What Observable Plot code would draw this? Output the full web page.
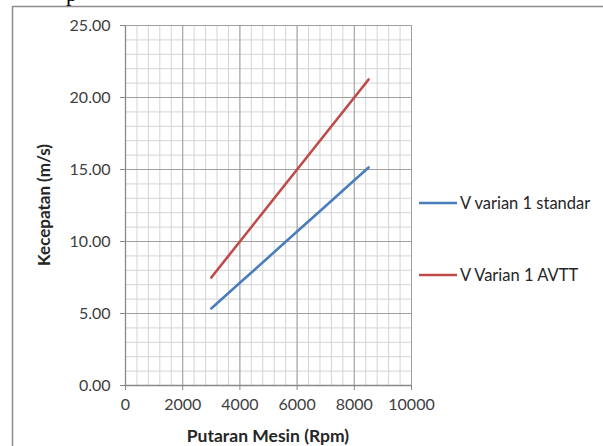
<!DOCTYPE html>
<html>
<head>
<meta charset="utf-8">
<script src="https://cdn.jsdelivr.net/npm/d3@7"></script>
<script src="https://cdn.jsdelivr.net/npm/@observablehq/plot@0.6"></script>
<style>
  html, body { margin: 0; padding: 0; background: #fff; }
  #chart { position: relative; width: 603px; height: 446px; overflow: hidden; }
</style>
</head>
<body>
<div id="chart"></div>
<script>
// Data
const rpm = [3000, 4000, 5000, 6000, 7000, 8000, 8500];
const vStandar = [5.35, 7.13, 8.91, 10.69, 12.47, 14.25, 15.14];
const vAvtt = [7.50, 10.00, 12.50, 15.00, 17.50, 20.00, 21.25];
const seriesNames = ["V varian 1 standar", "V Varian 1 AVTT"];
const seriesColors = ["#4a7ebb", "#be4b48"];
const xTicks = [0, 2000, 4000, 6000, 8000, 10000];
const yTicks = [0, 5, 10, 15, 20, 25];
const xTitle = "Putaran Mesin (Rpm)";
const yTitle = "Kecepatan (m/s)";

const data = [];
rpm.forEach((r, i) => {
  data.push({rpm: r, v: vStandar[i], s: seriesNames[0]});
  data.push({rpm: r, v: vAvtt[i], s: seriesNames[1]});
});

const xMinor = d3.range(0, 10001, 400);
const yMinor = d3.range(0, 25.001, 1);

const plot = Plot.plot({
  width: 603,
  height: 446,
  marginLeft: 125,
  marginRight: 192,
  marginTop: 25,
  marginBottom: 61,
  style: {fontFamily: "Lato, 'Open Sans', sans-serif", fontSize: "16px", color: "#404040", background: "#fff"},
  x: {domain: [0, 10000]},
  y: {domain: [0, 25]},
  color: {domain: seriesNames, range: seriesColors},
  marks: [
    Plot.ruleX(xMinor, {stroke: "#d4d4d4", strokeWidth: 1}),
    Plot.ruleY(yMinor, {stroke: "#d4d4d4", strokeWidth: 1}),
    Plot.ruleX(xTicks, {stroke: "#a0a0a0", strokeWidth: 1}),
    Plot.ruleY(yTicks, {stroke: "#a0a0a0", strokeWidth: 1}),
    Plot.ruleX([0], {stroke: "#888", strokeWidth: 1.3}),
    Plot.ruleY([0], {stroke: "#888", strokeWidth: 1.3}),
    Plot.axisX({ticks: xTicks, tickSize: 5, tickPadding: 8, tickFormat: d => String(d), stroke: "#888", label: null, fill: "#404040"}),
    Plot.axisY({ticks: yTicks, tickSize: 5, tickPadding: 10, tickFormat: d => d.toFixed(2), stroke: "#888", label: null, fill: "#404040"}),
    Plot.line(data, {x: "rpm", y: "v", z: "s", stroke: "s", strokeWidth: 2.6})
  ]
});

document.getElementById("chart").appendChild(plot);

const svg = d3.select(plot);
// outer chart border
svg.append("path")
  .attr("d", "M12.5,446 L12.5,6.5 L603,6.5")
  .attr("fill", "none").attr("stroke", "#8c8c8c").attr("stroke-width", 1.5);
// cut-off text from the page above (also cut off in the reference)
svg.append("text").attr("x", 66).attr("y", 1).attr("text-anchor", "start").text("p")
  .attr("font-family", "'Liberation Serif', serif").attr("font-size", 22).attr("fill", "#000");
// axis titles
svg.append("text").attr("x", 268).attr("y", 442).attr("text-anchor", "middle")
  .attr("font-weight", "bold").attr("font-size", 17.5).attr("fill", "#262626").text(xTitle);
svg.append("text").attr("transform", "translate(50,205) rotate(-90)").attr("text-anchor", "middle")
  .attr("font-weight", "bold").attr("font-size", 17).attr("fill", "#262626").text(yTitle);
// legend
const legY = [203, 275];
seriesNames.forEach((name, i) => {
  const g = svg.append("g");
  g.append("line").attr("x1", 419).attr("x2", 457).attr("y1", legY[i]).attr("y2", legY[i])
    .attr("stroke", seriesColors[i]).attr("stroke-width", 2.6);
  g.append("text").attr("x", 460).attr("y", legY[i]).attr("dy", "0.35em").attr("text-anchor", "start")
    .attr("font-size", 16.5).attr("fill", "#262626").text(name);
});
</script>
</body>
</html>
